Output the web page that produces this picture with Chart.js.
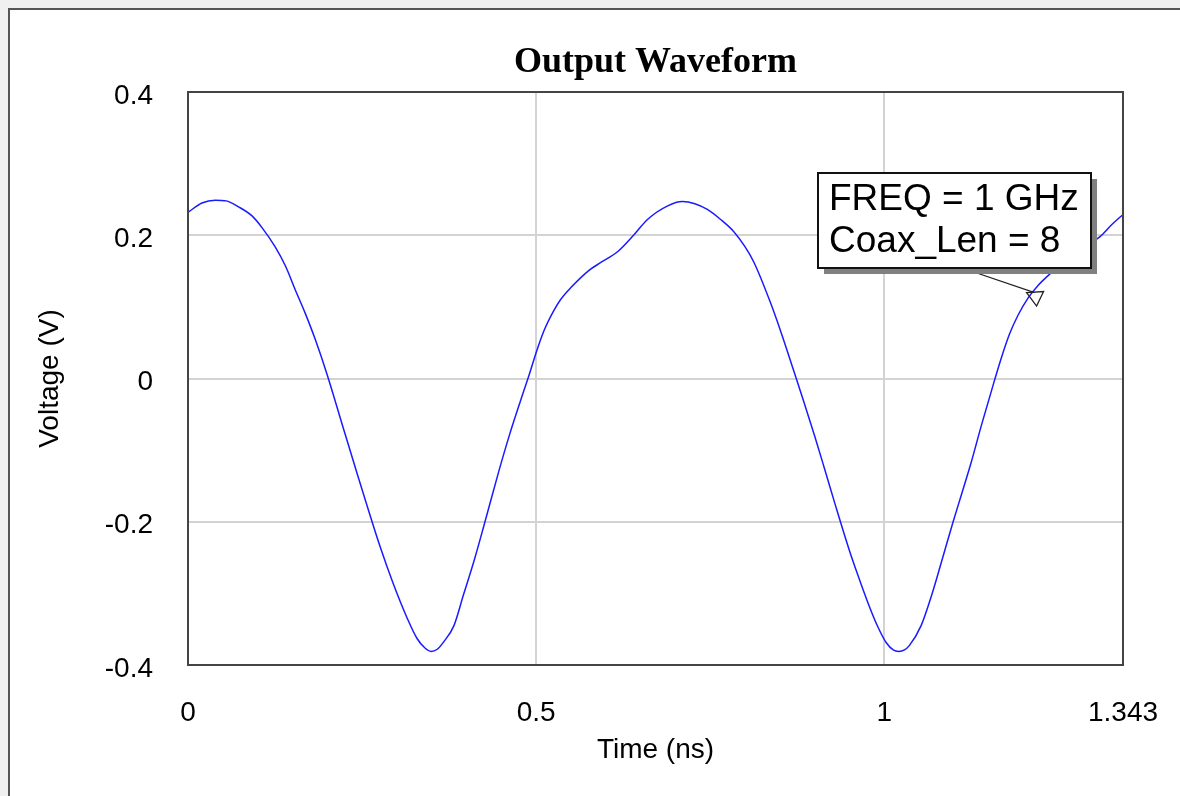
<!DOCTYPE html>
<html>
<head>
<meta charset="utf-8">
<script src="https://cdn.jsdelivr.net/npm/chart.js@4.4.1/dist/chart.umd.min.js"></script>
<style>
html,body{margin:0;padding:0;background:#f0f0f0;width:1180px;height:796px;overflow:hidden;}
#frame{position:absolute;left:8px;top:8px;width:1172px;height:788px;background:#fff;border-left:2px solid #555;border-top:2px solid #555;box-sizing:border-box;}
#c{position:absolute;left:0;top:0;}
</style>
</head>
<body>
<div id="frame"></div>
<canvas id="c" width="1180" height="796"></canvas>
<script>
const chartTitle = 'Output Waveform';
const xTitle = 'Time (ns)';
const yTitle = 'Voltage (V)';
const timeNs = [0, 0.02, 0.039, 0.055, 0.072, 0.092, 0.106, 0.125, 0.14, 0.154, 0.168, 0.183, 0.2, 0.223, 0.243, 0.257, 0.276, 0.295, 0.315, 0.329, 0.34, 0.349, 0.358, 0.367, 0.382, 0.396, 0.411, 0.426, 0.446, 0.462, 0.478, 0.491, 0.5, 0.511, 0.525, 0.535, 0.55, 0.576, 0.593, 0.617, 0.64, 0.66, 0.689, 0.71, 0.728, 0.746, 0.765, 0.784, 0.8, 0.813, 0.837, 0.852, 0.871, 0.885, 0.9, 0.914, 0.929, 0.95, 0.962, 0.977, 0.991, 1.003, 1.013, 1.021, 1.029, 1.036, 1.053, 1.068, 1.082, 1.099, 1.111, 1.125, 1.14, 1.158, 1.168, 1.18, 1.192, 1.207, 1.221, 1.238, 1.26, 1.285, 1.31, 1.327, 1.343];
const voltage = [0.232, 0.245, 0.249, 0.248, 0.240, 0.227, 0.211, 0.184, 0.157, 0.124, 0.092, 0.054, 0.005, -0.069, -0.133, -0.177, -0.235, -0.287, -0.335, -0.363, -0.376, -0.381, -0.378, -0.368, -0.345, -0.301, -0.254, -0.202, -0.131, -0.078, -0.030, 0.008, 0.036, 0.066, 0.094, 0.110, 0.127, 0.151, 0.162, 0.177, 0.200, 0.222, 0.241, 0.247, 0.244, 0.236, 0.222, 0.205, 0.184, 0.162, 0.105, 0.064, 0.008, -0.034, -0.080, -0.125, -0.174, -0.240, -0.274, -0.314, -0.347, -0.369, -0.379, -0.381, -0.379, -0.373, -0.345, -0.303, -0.257, -0.200, -0.162, -0.117, -0.064, -0.004, 0.028, 0.062, 0.088, 0.113, 0.130, 0.146, 0.164, 0.182, 0.198, 0.215, 0.229];
const xTickValues = [0, 0.5, 1, 1.343];
const xTickLabels = ['0', '0.5', '1', '1.343'];
const yTickValues = [-0.4, -0.2, 0, 0.2, 0.4];
const yTickLabels = ['-0.4', '-0.2', '0', '0.2', '0.4'];
const annotationLines = ['FREQ = 1 GHz', 'Coax_Len = 8'];
const annotationAnchor = {x: 1.216, y: 0.12};
const annotationBoxAt = {x: 0.905, y: 0.287};

const points = timeNs.map((t, i) => ({x: t, y: voltage[i]}));

const framePlugin = {
  id: 'plotFrame',
  afterDatasetsDraw(chart) {
    const {ctx, chartArea: a} = chart;
    ctx.save();
    ctx.strokeStyle = '#444';
    ctx.lineWidth = 2;
    ctx.strokeRect(a.left, a.top, a.right - a.left, a.bottom - a.top);
    ctx.restore();
  }
};

const notePlugin = {
  id: 'note',
  afterDraw(chart) {
    const ctx = chart.ctx, xs = chart.scales.x, ys = chart.scales.y;
    const bx = Math.round(xs.getPixelForValue(annotationBoxAt.x));
    const by = Math.round(ys.getPixelForValue(annotationBoxAt.y));
    const bw = 273, bh = 95;
    const ax = xs.getPixelForValue(annotationAnchor.x);
    const ay = ys.getPixelForValue(annotationAnchor.y);
    ctx.save();
    ctx.strokeStyle = '#222';
    ctx.lineWidth = 1.3;
    ctx.beginPath();
    ctx.moveTo(bx + 150, by + bh + 2);
    ctx.lineTo(ax, ay);
    ctx.stroke();
    ctx.beginPath();
    ctx.moveTo(ax - 8, ay);
    ctx.lineTo(ax + 9, ay - 1);
    ctx.lineTo(ax + 2, ay + 13.5);
    ctx.closePath();
    ctx.stroke();
    ctx.fillStyle = '#808080';
    ctx.fillRect(bx + 6, by + 6, bw, bh);
    ctx.fillStyle = '#fff';
    ctx.fillRect(bx, by, bw, bh);
    ctx.strokeStyle = '#111';
    ctx.lineWidth = 2;
    ctx.strokeRect(bx, by, bw, bh);
    ctx.fillStyle = '#000';
    ctx.font = '37px "Liberation Sans", Arial, sans-serif';
    ctx.textBaseline = 'alphabetic';
    ctx.textAlign = 'left';
    ctx.fillText(annotationLines[0], bx + 11, by + 37);
    ctx.fillText(annotationLines[1], bx + 11, by + 79);
    ctx.restore();
  }
};

const tickFont = {family: '"Liberation Sans", Arial, sans-serif', size: 28};

new Chart(document.getElementById('c'), {
  type: 'line',
  data: {
    datasets: [{
      data: points,
      borderColor: '#1a1aff',
      borderWidth: 1.5,
      pointRadius: 0,
      fill: false,
      cubicInterpolationMode: 'monotone'
    }]
  },
  options: {
    responsive: false,
    animation: false,
    devicePixelRatio: 1,
    layout: {autoPadding: false, padding: {left: 10, top: 10, right: 57, bottom: 0}},
    plugins: {
      legend: {display: false},
      tooltip: {enabled: false},
      title: {
        display: true,
        text: chartTitle,
        fullSize: false,
        color: '#000',
        font: {family: '"Liberation Serif", "Times New Roman", serif', size: 36, weight: 'bold'},
        padding: {top: 31.4, bottom: 7.4}
      }
    },
    scales: {
      x: {
        type: 'linear',
        min: 0,
        max: 1.343,
        afterFit(s) { s.height = 131; s.paddingLeft = 0; s.paddingRight = 0; },
        afterBuildTicks(s) { s.ticks = xTickValues.map(v => ({value: v})); },
        ticks: {
          autoSkip: false,
          maxRotation: 0,
          color: '#000',
          font: tickFont,
          padding: 31,
          callback: (v, i) => xTickLabels[i]
        },
        grid: {color: '#d3d3d3', lineWidth: 2, drawTicks: false},
        border: {display: false},
        title: {
          display: true,
          text: xTitle,
          color: '#000',
          font: tickFont,
          padding: {top: 0, bottom: 29}
        }
      },
      y: {
        type: 'linear',
        min: -0.4,
        max: 0.4,
        afterFit(s) { s.width = 178; s.paddingTop = 0; s.paddingBottom = 0; },
        afterBuildTicks(s) { s.ticks = yTickValues.map(v => ({value: v})); },
        ticks: {
          color: '#000',
          font: tickFont,
          padding: 35,
          labelOffset: 4,
          callback: (v, i) => yTickLabels[i]
        },
        grid: {color: '#d3d3d3', lineWidth: 2, drawTicks: false},
        border: {display: false},
        title: {
          display: true,
          text: yTitle,
          color: '#000',
          font: tickFont,
          padding: {top: 23, bottom: 0}
        }
      }
    }
  },
  plugins: [framePlugin, notePlugin]
});
</script>
</body>
</html>
